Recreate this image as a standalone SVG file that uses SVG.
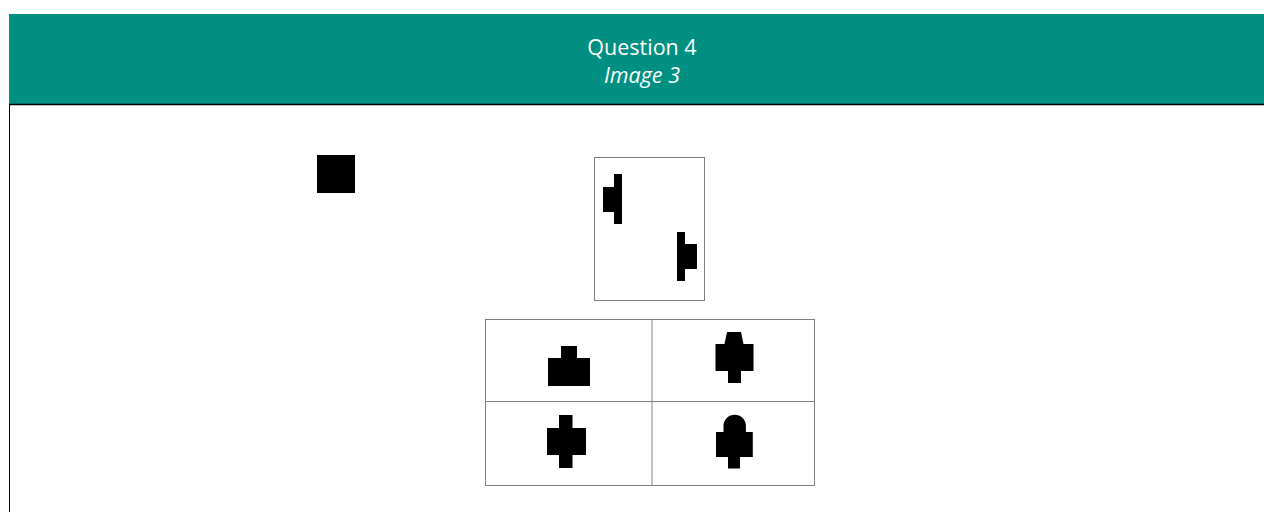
<svg xmlns="http://www.w3.org/2000/svg" width="1264" height="512" viewBox="0 0 1264 512">
  <style>
    .hdr { fill: #009081; }
    .title { font-family: "Open Sans", "Noto Sans", sans-serif; font-size: 21.5px; fill: #ffffff; text-anchor: middle; }
    .it { font-style: italic; }
    .frame { fill: #ffffff; stroke: #808080; stroke-width: 1; }
    .grid { fill: none; stroke: #808080; stroke-width: 1; }
    .fig { fill: #000000; }
  </style>
  <rect x="0" y="0" width="1264" height="512" fill="#ffffff"/>
  <g id="header">
    <rect class="hdr" x="9" y="14" width="1255" height="90"/>
    <line x1="9" y1="104.5" x2="1264" y2="104.5" stroke="#000" stroke-width="1.5"/>
    <line x1="9.5" y1="104" x2="9.5" y2="512" stroke="#000" stroke-width="1"/>
    <text class="title" x="642" y="55">Question 4</text>
    <text class="title it" x="642" y="83">Image 3</text>
  </g>
  <g id="square">
    <rect class="fig" x="317" y="155" width="38" height="38"/>
  </g>
  <g id="top-box">
    <rect class="frame" x="594.5" y="157.5" width="110" height="143"/>
    <path class="fig" d="M614,174 H622 V224 H614 V212 H603 V187 H614 Z"/>
    <path class="fig" d="M677,232 H685 V244 H697 V269 H685 V281 H677 Z"/>
  </g>
  <g id="options">
    <rect class="grid" x="485.5" y="319.5" width="329" height="166"/>
    <line class="grid" x1="652" y1="319.5" x2="652" y2="485.5"/>
    <line class="grid" x1="485.5" y1="401.5" x2="814.5" y2="401.5"/>
    <g id="opt1">
      <path class="fig" d="M561,346 H577 V358 H590 V386 H548 V358 H561 Z"/>
    </g>
    <g id="opt2">
      <path class="fig" d="M727,332 H741 L743.5,344 H753.5 V371 H741 V383 H728 V371 H715.5 V344 H724.5 Z"/>
    </g>
    <g id="opt3">
      <path class="fig" d="M559,415 H572.5 V428 H586 V455 H572.5 V468 H559 V455 H547 V428 H559 Z"/>
    </g>
    <g id="opt4">
      <path class="fig" d="M723.5,426 A11.2,11.2 0 0 1 745.9,426 V432 H752.8 V457 H740 V468.5 H728 V457 H716 V432 H723.5 Z"/>
    </g>
  </g>
</svg>
